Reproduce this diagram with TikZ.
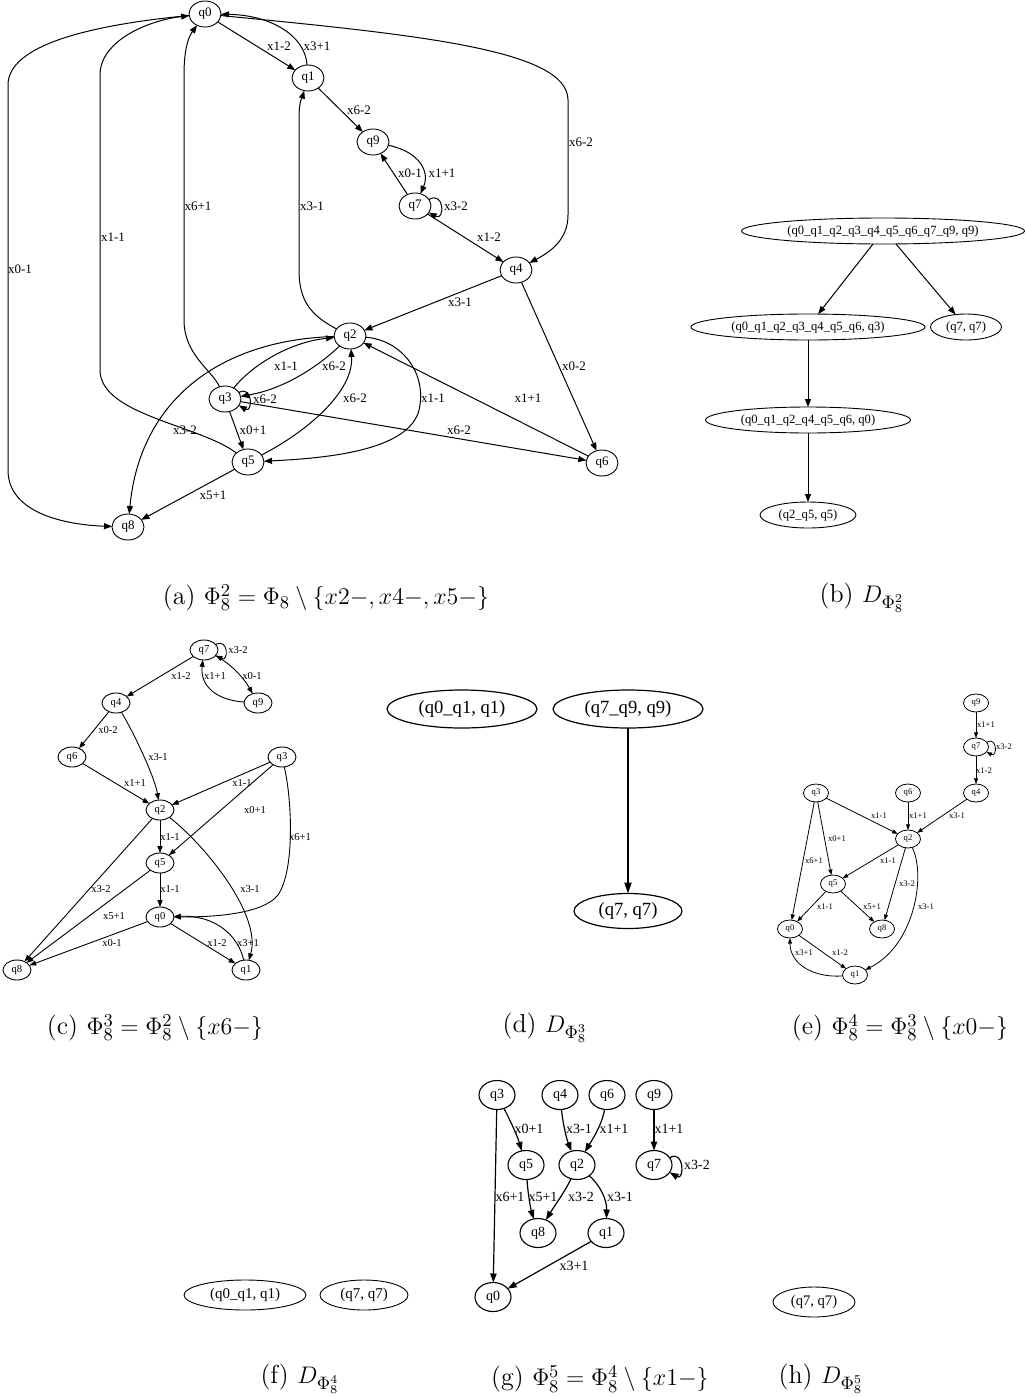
\documentclass[tikz,border=0pt]{standalone}
\usepackage{fontspec}
\usetikzlibrary{arrows.meta,shapes.geometric}
\newfontfamily\gvfont{Liberation Serif}
\begin{document}
\begin{tikzpicture}[x=0.5pt,y=-0.5pt,
  every node/.style={inner sep=0pt,outer sep=0pt},
  gv/.style={draw,ellipse,line width=0.45pt,inner sep=0pt},
  stA/.style={gv,minimum width=16pt,minimum height=13pt,font=\gvfont\fontsize{6.5}{7}\selectfont},
  labA/.style={font=\gvfont\fontsize{6.5}{7}\selectfont},
  arrA/.style={line width=0.5pt,-{Triangle[length=4pt,width=3pt]}},
  stB/.style={gv,minimum height=13pt,font=\gvfont\fontsize{6.3}{7}\selectfont},
  arrB/.style={line width=0.5pt,-{Triangle[length=4pt,width=3pt]}},
  stC/.style={gv,minimum width=14pt,minimum height=10pt,font=\gvfont\fontsize{5.3}{6}\selectfont},
  labC/.style={font=\gvfont\fontsize{5.3}{6}\selectfont},
  arrC/.style={line width=0.45pt,-{Triangle[length=3.4pt,width=2.5pt]}},
  stD/.style={gv,line width=0.6pt,font=\gvfont\fontsize{9.3}{10}\selectfont},
  arrD/.style={line width=0.8pt,-{Triangle[length=5.5pt,width=3.6pt]}},
  stE/.style={gv,minimum width=12.5pt,minimum height=9pt,line width=0.4pt,font=\gvfont\fontsize{4.3}{5}\selectfont},
  labE/.style={font=\gvfont\fontsize{4.3}{5}\selectfont},
  arrE/.style={line width=0.4pt,-{Triangle[length=2.8pt,width=2pt]}},
  stF/.style={gv,minimum height=15pt,font=\gvfont\fontsize{7.5}{8}\selectfont},
  stG/.style={gv,minimum width=18pt,minimum height=14.5pt,line width=0.55pt,font=\gvfont\fontsize{7}{8}\selectfont},
  labG/.style={font=\gvfont\fontsize{7}{8}\selectfont},
  arrG/.style={line width=0.6pt,-{Triangle[length=4.5pt,width=3.2pt]}},
  stH/.style={gv,minimum height=15pt,font=\gvfont\fontsize{7.3}{8}\selectfont},
  captxt/.style={font=\fontsize{13}{15}\selectfont}
]
\useasboundingbox (0,0) rectangle (1026,1397);

% ================= (a) =================
\node[stA] (a0) at (205,14) {q0};
\node[stA] (a1) at (308,78) {q1};
\node[stA] (a9) at (373,142) {q9};
\node[stA] (a7) at (415,206) {q7};
\node[stA] (a4) at (516,270) {q4};
\node[stA] (a2) at (350,336) {q2};
\node[stA] (a3) at (225,399) {q3};
\node[stA] (a5) at (248,462) {q5};
\node[stA] (a6) at (602,463) {q6};
\node[stA] (a8) at (128,527) {q8};

\draw[arrA] (a0) -- (a1);
\node[labA] at (279,46) {x1-2};
\draw[arrA] (a1) .. controls (305,35) and (270,15) .. (a0);
\node[labA] at (317,46) {x3+1};
\draw[arrA] (a1) -- (a9);
\node[labA] at (359,110) {x6-2};
\draw[arrA] (a9) .. controls (420,152) and (430,172) .. (a7);
\node[labA] at (442,173) {x1+1};
\draw[arrA] (a7) -- (a9);
\node[labA] at (410,173) {x0-1};
\draw[arrA] (a7.25) .. controls +(16,-9) and +(16,9) .. (a7.-25);
\node[labA] at (456,206) {x3-2};
\draw[arrA] (a7) -- (a4);
\node[labA] at (489,237) {x1-2};
\draw[arrA] (a0) .. controls (420,35) and (568,50) .. (568,100) -- (568,215) .. controls (568,240) and (550,252) .. (a4);
\node[labA] at (581,142) {x6-2};
\draw[arrA] (a4) -- (a2);
\node[labA] at (460,302) {x3-1};
\draw[arrA] (a4) -- (a6);
\node[labA] at (574,366) {x0-2};
\draw[arrA] (a2) .. controls (310,315) and (299,300) .. (299,270) -- (299,120) .. controls (299,100) and (302,98) .. (a1);
\node[labA] at (312,206) {x3-1};
\draw[arrA] (a3) .. controls (212,370) and (184,355) .. (184,320) -- (184,75) .. controls (184,45) and (190,35) .. (a0);
\node[labA] at (198,206) {x6+1};
\draw[arrA] (a5) .. controls (200,425) and (100,415) .. (100,370) -- (100,75) .. controls (100,40) and (150,20) .. (a0);
\node[labA] at (113,237) {x1-1};
\draw[arrA] (a0) .. controls (90,25) and (8,45) .. (8,85) -- (8,470) .. controls (8,515) and (70,525) .. (a8);
\node[labA] at (20,269) {x0-1};
\draw[arrA] (a3) .. controls (252,365) and (290,342) .. (a2);
\node[labA] at (286,366) {x1-1};
\draw[arrA] (a2) .. controls (325,360) and (290,388) .. (a3);
\node[labA] at (334,366) {x6-2};
\draw[arrA] (a3.25) .. controls +(14,-8) and +(14,8) .. (a3.-25);
\node[labA] at (265,399) {x6-2};
\draw[arrA] (a3) -- (a5);
\node[labA] at (253,430) {x0+1};
\draw[arrA] (a5) .. controls (310,430) and (354,390) .. (a2);
\node[labA] at (355,398) {x6-2};
\draw[arrA] (a2) .. controls (400,340) and (425,370) .. (420,405) .. controls (415,450) and (330,458) .. (a5);
\node[labA] at (433,398) {x1-1};
\draw[arrA] (a6) -- (a2);
\node[labA] at (528,398) {x1+1};
\draw[arrA] (a3) -- (a6);
\node[labA] at (459,430) {x6-2};
\draw[arrA] (a2) .. controls (220,340) and (140,400) .. (a8);
\node[labA] at (185,430) {x3-2};
\draw[arrA] (a5) -- (a8);
\node[labA] at (213,495) {x5+1};

% ================= (b) =================
\node[stB,minimum width=141.5pt] (b1) at (883,231) {(q0\_q1\_q2\_q3\_q4\_q5\_q6\_q7\_q9, q9)};
\node[stB,minimum width=117pt] (b2) at (808,327) {(q0\_q1\_q2\_q3\_q4\_q5\_q6, q3)};
\node[stB,minimum width=35.5pt] (b3) at (966,327) {(q7, q7)};
\node[stB,minimum width=102.5pt] (b4) at (808,420) {(q0\_q1\_q2\_q4\_q5\_q6, q0)};
\node[stB,minimum width=48pt] (b5) at (808,515) {(q2\_q5, q5)};
\draw[arrB] ([xshift=-5pt]b1.south) -- (b2);
\draw[arrB] ([xshift=6.5pt]b1.south) -- (b3);
\draw[arrB] (b2) -- (b4);
\draw[arrB] (b4) -- (b5);

% ================= (c) =================
\node[stC] (c7) at (204,650) {q7};
\node[stC] (c9) at (258,703) {q9};
\node[stC] (c4) at (116,703) {q4};
\node[stC] (c6) at (72,757) {q6};
\node[stC] (c3) at (282,757) {q3};
\node[stC] (c2) at (160,810) {q2};
\node[stC] (c5) at (160,863) {q5};
\node[stC] (c0) at (160,917) {q0};
\node[stC] (c8) at (17,970) {q8};
\node[stC] (c1) at (246,970) {q1};

\draw[arrC] (c7) -- (c4);
\node[labC] at (181,676) {x1-2};
\draw[arrC] (c7) .. controls (228,662) and (242,675) .. (c9);
\node[labC] at (252,676) {x0-1};
\draw[arrC] (c9) .. controls (215,700) and (200,685) .. (c7);
\node[labC] at (215,676) {x1+1};
\draw[arrC] (c7.25) .. controls +(13,-7) and +(13,7) .. (c7.-25);
\node[labC] at (238,650) {x3-2};
\draw[arrC] (c4) -- (c6);
\node[labC] at (108,730) {x0-2};
\draw[arrC] (c4) .. controls (135,735) and (155,778) .. (c2);
\node[labC] at (158,757) {x3-1};
\draw[arrC] (c6) -- (c2);
\node[labC] at (135,783) {x1+1};
\draw[arrC] (c3) -- (c2);
\node[labC] at (242,783) {x1-1};
\draw[arrC] (c3) -- (c5);
\node[labC] at (255,810) {x0+1};
\draw[arrC] (c3) .. controls (292,800) and (295,870) .. (278,895) .. controls (262,915) and (210,917) .. (c0);
\node[labC] at (300,837) {x6+1};
\draw[arrC] (c2) -- (c5);
\node[labC] at (170,837) {x1-1};
\draw[arrC] (c5) -- (c0);
\node[labC] at (170,889) {x1-1};
\draw[arrC] (c2) -- (c8);
\node[labC] at (101,889) {x3-2};
\draw[arrC] (c5) -- (c8);
\node[labC] at (114,916) {x5+1};
\draw[arrC] (c0) -- (c8);
\node[labC] at (112,943) {x0-1};
\draw[arrC] (c0) -- (c1);
\node[labC] at (217,943) {x1-2};
\draw[arrC] (c1) .. controls (238,935) and (215,915) .. (c0);
\node[labC] at (248,943) {x3+1};
\draw[arrC] (c2) .. controls (205,845) and (262,915) .. (c1);
\node[labC] at (250,889) {x3-1};

% ================= (d) =================
\node[stD,minimum width=75pt,minimum height=19pt] (d1) at (462,709) {(q0\_q1, q1)};
\node[stD,minimum width=75pt,minimum height=19pt] (d2) at (628,709) {(q7\_q9, q9)};
\node[stD,minimum width=54pt,minimum height=17.5pt] (d3) at (628,911) {(q7, q7)};
\draw[arrD] (d2) -- (d3);

% ================= (e) =================
\node[stE] (e9) at (976,703) {q9};
\node[stE] (e7) at (976,747) {q7};
\node[stE] (e4) at (976,793) {q4};
\node[stE] (e3) at (816,793) {q3};
\node[stE] (e6) at (908,793) {q6};
\node[stE] (e2) at (908,839) {q2};
\node[stE] (e5) at (833,884) {q5};
\node[stE] (e0) at (790,929) {q0};
\node[stE] (e8) at (882,929) {q8};
\node[stE] (e1) at (855,975) {q1};

\draw[arrE] (e9) -- (e7);
\node[labE] at (986,725) {x1+1};
\draw[arrE] (e7.25) .. controls +(11,-6) and +(11,6) .. (e7.-25);
\node[labE] at (1004,747) {x3-2};
\draw[arrE] (e7) -- (e4);
\node[labE] at (984,771) {x1-2};
\draw[arrE] (e3) -- (e2);
\node[labE] at (879,816) {x1-1};
\draw[arrE] (e6) -- (e2);
\node[labE] at (918,816) {x1+1};
\draw[arrE] (e4) -- (e2);
\node[labE] at (957,816) {x3-1};
\draw[arrE] (e3) -- (e5);
\node[labE] at (837,839) {x0+1};
\draw[arrE] (e3) -- (e0);
\node[labE] at (814,861) {x6+1};
\draw[arrE] (e2) -- (e5);
\node[labE] at (888,861) {x1-1};
\draw[arrE] (e2) -- (e8);
\node[labE] at (907,884) {x3-2};
\draw[arrE] (e2) .. controls (926,875) and (915,945) .. (e1);
\node[labE] at (926,907) {x3-1};
\draw[arrE] (e5) -- (e0);
\node[labE] at (825,907) {x1-1};
\draw[arrE] (e5) -- (e8);
\node[labE] at (872,907) {x5+1};
\draw[arrE] (e0) -- (e1);
\node[labE] at (840,953) {x1-2};
\draw[arrE] (e1) .. controls (815,978) and (790,965) .. (e0);
\node[labE] at (804,953) {x3+1};

% ================= (f) =================
\node[stF,minimum width=61pt] (f1) at (245,1295) {(q0\_q1, q1)};
\node[stF,minimum width=44pt] (f2) at (364,1295) {(q7, q7)};

% ================= (g) =================
\node[stG] (g3) at (497,1095) {q3};
\node[stG] (g4) at (560,1095) {q4};
\node[stG] (g6) at (607,1095) {q6};
\node[stG] (g9) at (654,1095) {q9};
\node[stG] (g5) at (526,1165) {q5};
\node[stG] (g2) at (577,1165) {q2};
\node[stG] (g7) at (654,1165) {q7};
\node[stG] (g8) at (538,1233) {q8};
\node[stG] (g1) at (606,1233) {q1};
\node[stG] (g0) at (493,1297) {q0};

\draw[arrG] (g3) .. controls (510,1120) and (517,1135) .. (g5);
\node[labG] at (529,1129) {x0+1};
\draw[arrG] (g3) -- (g0);
\node[labG] at (510,1197) {x6+1};
\draw[arrG] (g4) .. controls (563,1125) and (567,1140) .. (g2);
\node[labG] at (579,1129) {x3-1};
\draw[arrG] (g6) .. controls (602,1125) and (592,1140) .. (g2);
\node[labG] at (614,1129) {x1+1};
\draw[arrG] (g9) -- (g7);
\node[labG] at (669,1129) {x1+1};
\draw[arrG] (g7.25) .. controls +(15,-9) and +(15,9) .. (g7.-25);
\node[labG] at (697,1165) {x3-2};
\draw[arrG] (g5) .. controls (528,1195) and (531,1210) .. (g8);
\node[labG] at (543,1197) {x5+1};
\draw[arrG] (g2) .. controls (566,1190) and (555,1205) .. (g8);
\node[labG] at (581,1197) {x3-2};
\draw[arrG] (g2) .. controls (600,1185) and (607,1200) .. (g1);
\node[labG] at (620,1197) {x3-1};
\draw[arrG] (g1) -- (g0);
\node[labG] at (574,1266) {x3+1};

% ================= (h) =================
\node[stH,minimum width=41pt] (h1) at (814,1302) {(q7, q7)};

% ================= captions =================
\node[captxt] (capa) at (326,598) {(a) $\Phi_8^2=\Phi_8\setminus\{x2{-},x4{-},x5{-}\}$};
\node[captxt] (capb) at (862,598) {(b) $D_{\Phi_8^2}$};
\node[captxt] (capc) at (155,1028) {(c) $\Phi_8^3=\Phi_8^2\setminus\{x6{-}\}$};
\node[captxt] (capd) at (545,1028) {(d) $D_{\Phi_8^3}$};
\node[captxt] (cape) at (900,1028) {(e) $\Phi_8^4=\Phi_8^3\setminus\{x0{-}\}$};
\node[captxt] (capf) at (300,1379) {(f) $D_{\Phi_8^4}$};
\node[captxt] (capg) at (600,1379) {(g) $\Phi_8^5=\Phi_8^4\setminus\{x1{-}\}$};
\node[captxt] (caph) at (821,1379) {(h) $D_{\Phi_8^5}$};
\end{tikzpicture}
\end{document}
